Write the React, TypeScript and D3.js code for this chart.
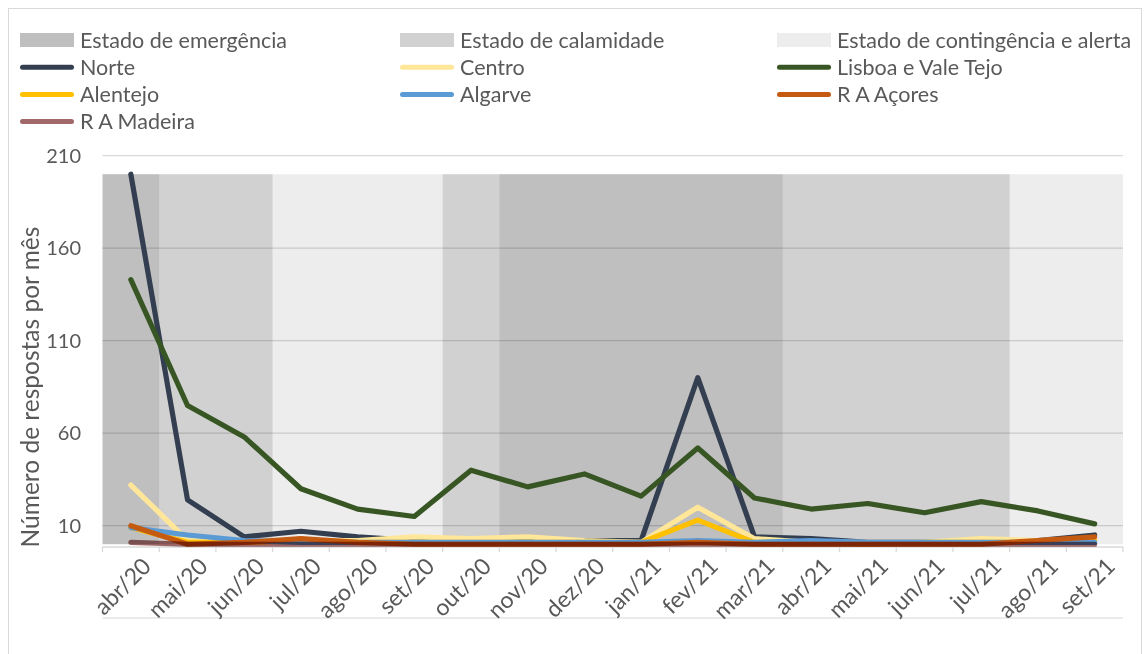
import React, { useEffect, useRef } from "react";
import * as d3 from "d3";

const months = ["abr/20", "mai/20", "jun/20", "jul/20", "ago/20", "set/20", "out/20", "nov/20", "dez/20",
    "jan/21", "fev/21", "mar/21", "abr/21", "mai/21", "jun/21", "jul/21", "ago/21", "set/21"];

// estado em vigor em cada mes
const estados = ["emergencia", "calamidade", "calamidade", "contingencia", "contingencia", "contingencia",
    "calamidade", "emergencia", "emergencia", "emergencia", "emergencia", "emergencia",
    "calamidade", "calamidade", "calamidade", "calamidade", "contingencia", "contingencia"];
const estadoValor = 200;

const norte = [200, 24, 4, 7, 4, 2, 3, 2, 2, 2, 90, 4, 3, 1, 1, 1, 2, 5];
const centro = [32, 2, 1, 2, 2, 4, 3, 4, 2, 1, 20, 3, 1, 1, 1, 3, 2, 3];
const lisboa = [143, 75, 58, 30, 19, 15, 40, 31, 38, 26, 52, 25, 19, 22, 17, 23, 18, 11];
const alentejo = [9, 1, 1, 2, 1, 1, 1, 1, 1, 1, 13, 1, 1, 0, 1, 1, 1, 2];
const algarve = [9, 5, 2, 1, 1, 1, 1, 1, 1, 1, 2, 1, 2, 1, 1, 1, 1, 1];
const acores = [10, 0, 1, 3, 1, 0, 0, 0, 0, 0, 1, 0, 0, 0, 0, 0, 2, 4];
const madeira = [1, 0, 0, 0, 0, 0, 0, 0, 0, 0, 0, 0, 0, 0, 0, 0, 0, 0];

const yTicks = [10, 60, 110, 160, 210];

const estadoInfo = [
    { key: "emergencia", label: "Estado de emergência", alpha: 0.25, swatch: "#bfbfbf" },
    { key: "calamidade", label: "Estado de calamidade", alpha: 0.18, swatch: "#d1d1d1" },
    { key: "contingencia", label: "Estado de contingência e alerta", alpha: 0.07, swatch: "#ededed" },
];

const series = [
    { name: "Norte", values: norte, color: "#333f50" },
    { name: "Centro", values: centro, color: "#ffe699" },
    { name: "Lisboa e Vale Tejo", values: lisboa, color: "#375623" },
    { name: "Alentejo", values: alentejo, color: "#ffc000" },
    { name: "Algarve", values: algarve, color: "#5b9bd5" },
    { name: "R A Açores", values: acores, color: "#c55a11" },
    { name: "R A Madeira", values: madeira, color: "#a06868", blend: "multiply" },
];

const FONT = "Lato, 'Open Sans', sans-serif";

export default function App() {
    const ref = useRef(null);

    useEffect(() => {
        const W = 1148, H = 654;
        const svg = d3.select(ref.current).attr("width", W).attr("height", H);
        svg.selectAll("*").remove();

        const left = 102.5, right = 1123, top = 155.7, bottom = 547;

        const x = d3.scaleBand().domain(months).range([left, right]).padding(0);
        const y = d3.scaleLinear().domain([-1.5, 210]).range([bottom, top]);

        // moldura
        svg.append("rect")
            .attr("x", 8.5).attr("y", 8.5)
            .attr("width", 1133).attr("height", 660)
            .attr("fill", "#fff")
            .attr("stroke", "#d9d9d9");

        // grelha
        svg.append("g").selectAll("line")
            .data(yTicks)
            .join("line")
            .attr("x1", left).attr("x2", right)
            .attr("y1", d => y(d)).attr("y2", d => y(d))
            .attr("stroke", "#d9d9d9")
            .attr("stroke-width", 1.3);

        // faixas de estado (meses seguidos com o mesmo estado juntos)
        const runs = [];
        estados.forEach((e, i) => {
            const last = runs[runs.length - 1];
            if (last && last.key === e) last.end = i;
            else runs.push({ key: e, start: i, end: i });
        });
        const alphaOf = k => estadoInfo.find(e => e.key === k).alpha;
        svg.append("g").selectAll("rect")
            .data(runs)
            .join("rect")
            .attr("x", d => x(months[d.start]))
            .attr("y", y(estadoValor))
            .attr("width", d => x(months[d.end]) + x.bandwidth() - x(months[d.start]))
            .attr("height", y(0) - y(estadoValor))
            .attr("fill", "#000")
            .attr("fill-opacity", d => alphaOf(d.key));

        // eixo x
        svg.append("line")
            .attr("x1", left).attr("x2", right)
            .attr("y1", bottom).attr("y2", bottom)
            .attr("stroke", "#d9d9d9").attr("stroke-width", 1.5);
        svg.append("g").selectAll("line")
            .data(d3.range(months.length + 1))
            .join("line")
            .attr("x1", i => left + i * x.bandwidth())
            .attr("x2", i => left + i * x.bandwidth())
            .attr("y1", bottom).attr("y2", bottom + 5)
            .attr("stroke", "#d9d9d9").attr("stroke-width", 1.3);
        svg.append("line")
            .attr("x1", left).attr("x2", right)
            .attr("y1", 618).attr("y2", 618)
            .attr("stroke", "#e4e4e4").attr("stroke-width", 1.3);

        svg.append("g").selectAll("text")
            .data(months)
            .join("text")
            .attr("transform", d => `translate(${x(d) + x.bandwidth() / 2 + 16}, ${bottom + 15}) rotate(-45)`)
            .attr("text-anchor", "end")
            .attr("dy", "0.35em")
            .style("font-family", FONT)
            .style("font-size", "23px")
            .attr("fill", "#595959")
            .text(d => d);

        // eixo y
        svg.append("g").selectAll("text")
            .data(yTicks)
            .join("text")
            .attr("x", 81)
            .attr("y", d => y(d))
            .attr("dy", "0.35em")
            .attr("text-anchor", "end")
            .style("font-family", FONT)
            .style("font-size", "20px")
            .attr("fill", "#595959")
            .text(d => d);

        svg.append("text")
            .attr("transform", `translate(39, 387) rotate(-90)`)
            .attr("text-anchor", "middle")
            .style("font-family", FONT)
            .style("font-size", "24.5px")
            .attr("fill", "#595959")
            .text("Número de respostas por mês");

        // linhas
        const line = d3.line()
            .x((d, i) => x(months[i]) + x.bandwidth() / 2)
            .y(d => y(d));

        svg.append("g").selectAll("path")
            .data(series)
            .join("path")
            .attr("d", s => line(s.values))
            .attr("fill", "none")
            .attr("stroke", s => s.color)
            .attr("stroke-width", 5.2)
            .attr("stroke-linejoin", "round")
            .attr("stroke-linecap", "round")
            .style("mix-blend-mode", s => s.blend || "normal");

        // legenda
        const cols = [20, 400, 777];
        const rowY = r => 40 + r * 27.2;
        const items = [
            ...estadoInfo.map(e => ({ kind: "box", label: e.label, color: e.swatch })),
            ...series.map(s => ({ kind: "line", label: s.name, color: s.color })),
        ];
        const lg = svg.append("g");
        items.forEach((it, i) => {
            const cx = cols[i % 3];
            const cy = rowY(Math.floor(i / 3));
            if (it.kind === "box") {
                lg.append("rect")
                    .attr("x", cx).attr("y", cy - 7)
                    .attr("width", 54).attr("height", 14)
                    .attr("fill", it.color);
            } else {
                lg.append("line")
                    .attr("x1", cx + 2.5).attr("x2", cx + 51.5)
                    .attr("y1", cy).attr("y2", cy)
                    .attr("stroke", it.color)
                    .attr("stroke-width", 5)
                    .attr("stroke-linecap", "round");
            }
            lg.append("text")
                .attr("x", cx + 60)
                .attr("y", cy)
                .attr("dy", "0.35em")
                .style("font-family", FONT)
                .style("font-size", "21.5px")
                .attr("fill", "#595959")
                .text(it.label);
        });
    }, []);

    return (
        <svg ref={ref} style={{ position: "absolute", left: 0, top: 0, display: "block" }}></svg>
    );
}
